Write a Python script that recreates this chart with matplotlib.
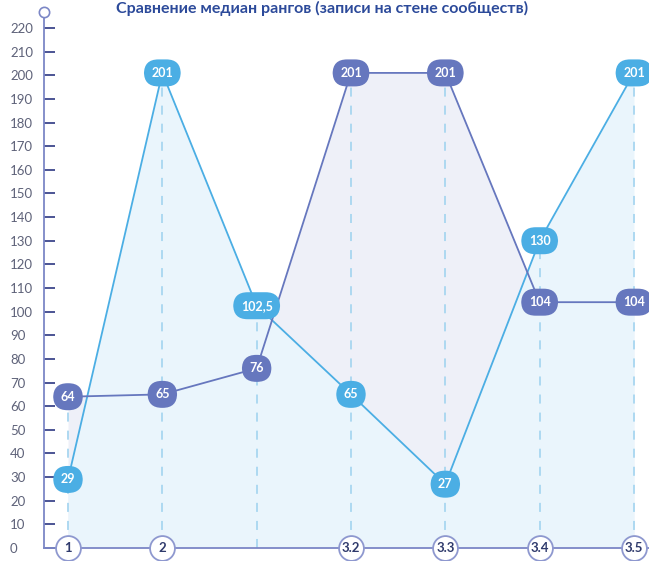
import matplotlib
matplotlib.use("Agg")
import matplotlib.pyplot as plt
from matplotlib.lines import Line2D

plt.rcParams['font.family'] = ['Lato', 'DejaVu Sans']

title = "Сравнение медиан рангов (записи на стене сообществ)"
categories = ["1", "2", "", "3.2", "3.3", "3.4", "3.5"]
series_light = [29, 201, 102.5, 65, 27, 130, 201]
series_dark = [64, 65, 76, 201, 201, 104, 104]
y_ticks = list(range(0, 221, 10))

LIGHT = "#4BAEE4"
DARK = "#6677BE"
FILL_LIGHT = "#EAF5FC"
FILL_DARK = "#EEF0F8"
AXIS = "#7C87C6"
TICK = "#4B5494"

W, H = 649, 561
fig = plt.figure(figsize=(W / 100, H / 100), dpi=100)

# axes box in pixels: left edge at 44, y=0 at 548, y=220 at 28
left_px, bottom_px, top_px = 44, 548, 28
ax = fig.add_axes([left_px / W, (H - bottom_px) / H, (W - left_px) / W, (bottom_px - top_px) / H])
step = 94.33
x0_px = 68
ax.set_xlim(-(x0_px - left_px) / step, (W - x0_px) / step)
ax.set_ylim(0, 220)

xs = list(range(len(categories)))

# areas: dark series beneath, light series on top
ax.fill_between(xs, series_dark, 0, color=FILL_DARK, lw=0, zorder=1)
ax.fill_between(xs, series_light, 0, color=FILL_LIGHT, lw=0, zorder=1.1)

# dashed guides from the baseline to the higher of the two points
for x, a, b in zip(xs, series_light, series_dark):
    ax.plot([x, x], [0, max(a, b)], color="#A8D6F0", lw=1.3,
            ls=(0, (5, 5)), zorder=1.5)

ax.plot(xs, series_light, color=LIGHT, lw=1.3, zorder=3)
ax.plot(xs, series_dark, color=DARK, lw=1.3, zorder=3)


def fmt(v):
    s = f"{v:g}"
    return s.replace(".", ",")


for series, col in ((series_dark, DARK), (series_light, LIGHT)):
    for x, v in zip(xs, series):
        ax.annotate(fmt(v), (x, v), ha="center", va="center", color="white",
                    fontsize=9, fontweight="bold", zorder=5,
                    annotation_clip=False,
                    bbox=dict(boxstyle="round,pad=0.6,rounding_size=1.15",
                              fc=col, ec="none"))

# spines and ticks
for s in ("top", "right", "bottom", "left"):
    ax.spines[s].set_visible(False)

ymax_axis = (bottom_px - 12) / ((bottom_px - top_px) / 220)
ax.add_line(Line2D([ax.get_xlim()[0]] * 2, [0, ymax_axis], color=AXIS, lw=1.3,
                   clip_on=False, zorder=4))
ax.add_line(Line2D(ax.get_xlim(), [0, 0], color=AXIS, lw=1.3,
                   clip_on=False, zorder=4))
ax.scatter([ax.get_xlim()[0]], [ymax_axis], s=55, facecolor="white",
           edgecolor=AXIS, lw=1.2, clip_on=False, zorder=6)

ax.set_yticks(y_ticks)
ax.set_yticklabels([str(t) for t in y_ticks])
ax.tick_params(axis="y", direction="in", length=8, width=1.4, color=TICK,
               labelcolor="#5E6279", labelsize=9.5, pad=24.5)
for lab in ax.get_yticklabels():
    lab.set_horizontalalignment("left")

ax.set_xticks([])

# category markers on the baseline
for x, c in zip(xs, categories):
    if not c:
        continue
    ax.scatter([x], [0], s=320, facecolor="white", edgecolor="#8E98CF",
               lw=1.3, clip_on=False, zorder=6)
    ax.text(x, 0, c, ha="center", va="center", fontsize=9.5,
            fontweight="bold", color="#2F3A6C", zorder=7, clip_on=False)

fig.text(322 / W, (H - 13) / H, title, ha="center", va="baseline",
         fontsize=11.5, fontweight="bold", color="#2C4A9A")

fig.savefig("out.png", dpi=100)
